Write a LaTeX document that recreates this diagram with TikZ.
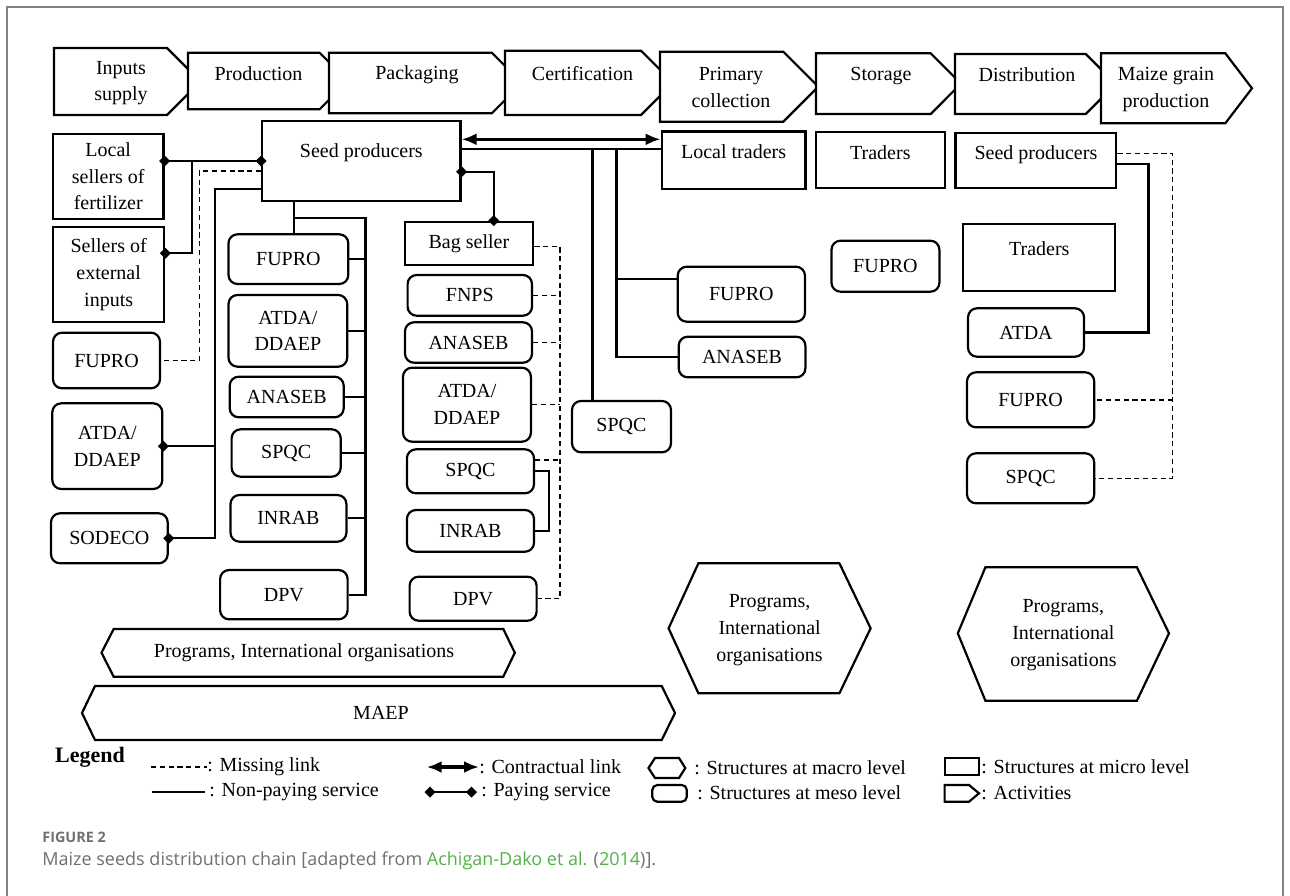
\documentclass[tikz,border=0pt]{standalone}
\usepackage{fontspec}
\setmainfont{Liberation Serif}
\newfontfamily\capfont{Open Sans}
\usetikzlibrary{arrows.meta,calc}

\definecolor{capgray}{RGB}{112,112,112}
\definecolor{citegreen}{RGB}{84,178,72}
\definecolor{framegray}{RGB}{130,130,130}

\begin{document}
\begin{tikzpicture}[x=0.5pt, y=-0.5pt, font=\fontsize{10}{13.3}\selectfont]
\tikzstyle{micro} = [rectangle, draw, line width=1.1pt, fill=white, inner sep=0pt, align=center]
\tikzstyle{meso} = [micro, rounded corners=4.5pt]
\tikzstyle{act} = [draw, line width=1.1pt, fill=white]
\tikzstyle{macro} = [draw, line width=1.1pt, fill=white]
\tikzstyle{txt} = [align=center, inner sep=0pt]
\tikzstyle{toptxt} = [anchor=north, inner sep=0pt]
\tikzstyle{line} = [draw, line width=1.1pt]
\tikzstyle{missing} = [draw, line width=0.7pt, dash pattern=on 2.6pt off 1.8pt]
\tikzstyle{pay} = [{Diamond[length=5.5pt,width=5.5pt]}-{Diamond[length=5.5pt,width=5.5pt]}, shorten <=-2.75pt, shorten >=-2.75pt]
\tikzstyle{payend} = [-{Diamond[length=5.5pt,width=5.5pt]}, shorten >=-2.75pt]
\tikzstyle{contract} = [{Latex[length=7.5pt,width=6pt]}-{Latex[length=7.5pt,width=6pt]}, line width=1.6pt]
\tikzstyle{legtext} = [anchor=west, inner sep=0pt]

\useasboundingbox[fill=white] (0,0) rectangle (1290,895);
\draw[framegray, line width=0.8pt] (7,905) -- (7,7) -- (1283,7) -- (1283,905);

% activities
\draw[act] (54,48) -- (167,48) -- (200.5,81.5) -- (167,115) -- (54,115) -- cycle;
\node[txt] (inputs) at (121,83) {Inputs\\supply};
\draw[act] (188,52.7) -- (319.6,52.7) -- (347.9,81) -- (319.6,109.3) -- (188,109.3) -- cycle;
\node[txt] (production) at (258.5,73.5) {Production};
\draw[act] (329,52.7) -- (491.8,52.7) -- (522.1,83) -- (491.8,113.3) -- (329,113.3) -- cycle;
\node[txt] (packaging) at (417,74.5) {Packaging};
\draw[act] (505,50.7) -- (641,50.7) -- (673.2,82.85) -- (641,115) -- (505,115) -- cycle;
\node[txt] (certif) at (582.5,73.5) {Certification};
\draw[act] (660,51.7) -- (783.3,51.7) -- (818.3,86.7) -- (783.3,121.7) -- (660,121.7) -- cycle;
\node[txt] (primary) at (731,87.5) {Primary\\collection};
\draw[act] (816,53.3) -- (930.7,53.3) -- (961,83.65) -- (930.7,114) -- (816,114) -- cycle;
\node[txt] (storage) at (881,76) {Storage};
\draw[act] (955,54) -- (1085.7,54) -- (1115.7,84) -- (1085.7,114) -- (955,114) -- cycle;
\node[txt] (distrib) at (1027,75) {Distribution};
\draw[act] (1101,53.3) -- (1225.3,53.3) -- (1252,88.3) -- (1225.3,123.3) -- (1101,123.3) -- cycle;
\node[txt] (maize) at (1166,89.5) {Maize grain\\production};

% micro level structures
\node[micro, minimum width=55.25pt, minimum height=42.5pt] (locfert) at (108.25,176.5) {Local\\sellers of\\fertilizer};
\node[micro, minimum width=55.65pt, minimum height=47.2pt] (extin) at (108.65,274.5) {Sellers of\\external\\inputs};
\node[micro, minimum width=99.15pt, minimum height=40pt, label={[toptxt, yshift=-12pt]north:Seed producers}] (seedprod) at (361.35,160.7) {};
\node[micro, minimum width=64.3pt, minimum height=21.65pt] (bagseller) at (468.9,243.35) {Bag seller};
\node[micro, minimum width=71.9pt, minimum height=28.75pt, label={[toptxt, yshift=-6.75pt]north:Local traders}] (loctraders) at (733.6,160.25) {};
\node[micro, minimum width=64.45pt, minimum height=27.7pt, label={[toptxt, yshift=-7pt]north:Traders}] (traders1) at (880.35,160) {};
\node[micro, minimum width=80.4pt, minimum height=27.5pt, label={[toptxt, yshift=-6.8pt]north:Seed producers}] (seedprodR) at (1035.9,160.2) {};
\node[micro, minimum width=76pt, minimum height=33.2pt, label={[toptxt, yshift=-8.85pt]north:Traders}] (traders2) at (1039.3,257.5) {};

% meso level structures
\node[meso, minimum width=53.5pt, minimum height=27.8pt] (fupro1) at (106.5,360.5) {FUPRO};
\node[meso, minimum width=55pt, minimum height=42.85pt] (atda1) at (107.3,446.15) {ATDA/\\DDAEP};
\node[meso, minimum width=58.35pt, minimum height=25pt] (sodeco) at (109.35,538.3) {SODECO};
\node[meso, minimum width=59.9pt, minimum height=24.85pt] (fupro2) at (288.4,259.15) {FUPRO};
\node[meso, minimum width=59.35pt, minimum height=35.85pt] (atda2) at (287.85,330.85) {ATDA/\\DDAEP};
\node[meso, minimum width=57pt, minimum height=20.3pt] (anaseb2) at (286.7,397) {ANASEB};
\node[meso, minimum width=54.55pt, minimum height=23.7pt] (spqc2) at (286.15,453) {SPQC};
\node[meso, minimum width=57.95pt, minimum height=23.35pt] (inrab2) at (288.45,518.35) {INRAB};
\node[meso, minimum width=63.75pt, minimum height=24.65pt] (dpv2) at (283.85,594.65) {DPV};
\node[meso, minimum width=62.2pt, minimum height=20.35pt] (fnps3) at (469.8,295.35) {FNPS};
\node[meso, minimum width=63.5pt, minimum height=20.2pt] (anaseb3) at (468.5,342.5) {ANASEB};
\node[meso, minimum width=63.95pt, minimum height=37pt] (atda3) at (466.95,404.7) {ATDA/\\DDAEP};
\node[meso, minimum width=63.55pt, minimum height=22pt] (spqc3) at (470.45,471.3) {SPQC};
\node[meso, minimum width=63.55pt, minimum height=20.85pt] (inrab3) at (470.45,530.85) {INRAB};
\node[meso, minimum width=63.5pt, minimum height=22pt] (dpv3) at (473.1,598.7) {DPV};
\node[meso, minimum width=49.5pt, minimum height=25.65pt] (spqc4) at (621.5,426.65) {SPQC};
\node[meso, minimum width=63.65pt, minimum height=27.5pt] (fupro4) at (741.35,294.2) {FUPRO};
\node[meso, minimum width=63.35pt, minimum height=20.3pt] (anaseb4) at (742.05,357) {ANASEB};
\node[meso, minimum width=53.95pt, minimum height=25.5pt] (fupro5) at (885.45,266.2) {FUPRO};
\node[meso, minimum width=58pt, minimum height=24.2pt] (atda6) at (1026,332.5) {ATDA};
\node[meso, minimum width=63.6pt, minimum height=27.5pt] (fupro6) at (1030.6,399.8) {FUPRO};
\node[meso, minimum width=63.6pt, minimum height=25pt] (spqc6) at (1030.6,478.3) {SPQC};

% macro level structures
\draw[macro] (101.5,652.7) -- (113.7,629) -- (503.3,629) -- (514.8,652.7) -- (503.3,676.7) -- (113.7,676.7) -- cycle;
\node[txt] (progs1) at (304,653) {Programs, International organisations};
\draw[macro] (82,713) -- (95,686) -- (661.7,686) -- (675,713) -- (661.7,740) -- (95,740) -- cycle;
\node[txt] (maep) at (381,713) {MAEP};
\draw[macro] (668.6,628.3) -- (698.4,563.3) -- (839.4,563.3) -- (870.6,628.3) -- (839.4,693.3) -- (698.4,693.3) -- cycle;
\node[txt] (progs2) at (769.6,630) {Programs,\\International\\organisations};
\draw[macro] (957.8,633.3) -- (985.4,567.3) -- (1136.9,567.3) -- (1169,633.3) -- (1136.9,700.7) -- (985.4,700.7) -- cycle;
\node[txt] (progs3) at (1063.4,635) {Programs,\\International\\organisations};

% links on the left
\coordinate (j1) at (191.7,161);
\coordinate (j2) at (191.7,253.3);
\path[line, pay] (locfert.east |- j1) -- (seedprod.west |- j1);
\path[line, payend] (j1) -- (j2) -- (extin.east |- j2);
\coordinate (d1) at (199.3,171);
\path[missing] (seedprod.west |- d1) -- (d1) |- (fupro1.east);
\coordinate (s1) at (215,189.3);
\path[line, payend] (seedprod.west |- s1) -- (s1) |- (sodeco.east);
\path[line, payend] (s1 |- atda1.east) -- (atda1.east);

% bus under the seed producers
\coordinate (b0) at (294,217.7);
\coordinate (b1) at (365.5,217.7);
\path[line] (seedprod.south -| b0) -- (fupro2.north -| b0);
\path[line] (b0) -- (b1) |- (dpv2.east);
\foreach \n in {fupro2,atda2,anaseb2,spqc2,inrab2}
  \path[line] (\n.east) -- (\n.east -| b1);

% bag seller column
\coordinate (p1) at (493.7,171.7);
\path[line, pay] (seedprod.east |- p1) -- (p1) -- (p1 |- bagseller.north);
\coordinate (m1) at (560,246.7);
\path[missing] (bagseller.east |- m1) -- (m1) |- (dpv3.east);
\foreach \n in {fnps3,anaseb3,atda3}
  \path[missing] (\n.east) -- (\n.east -| m1);
\path[missing] (spqc3.east |- 0,460) -- (m1 |- 0,460);
\coordinate (k1) at (549.2,500);
\path[line] (spqc3.east) -| (k1) |- (inrab3.east);

% seed producers to local traders
\path[line, contract] (seedprod.east |- 0,139.3) -- (loctraders.west |- 0,139.3);
\coordinate (v1) at (592.5,149.3);
\coordinate (v2) at (616.5,149.3);
\path[line] (seedprod.east |- v1) -- (loctraders.west |- v1);
\path[line] (v1) -- (v1 |- spqc4.north);
\path[line] (v2) |- (anaseb4.west);
\path[line] (v2 |- 0,279.3) -- (fupro4.west |- 0,279.3);

% distribution column
\coordinate (r1) at (1172.7,153.3);
\path[missing] (seedprodR.east |- r1) -- (r1) |- (spqc6.east);
\path[missing] (r1 |- fupro6.east) -- (fupro6.east);
\coordinate (r2) at (1148.5,164);
\path[line] (seedprodR.east |- r2) -- (r2) |- (atda6.east);

% legend
\node[font=\bfseries\fontsize{11}{13}\selectfont, inner sep=0pt] (legend) at (90,757) {Legend};
\node[legtext] (keymiss) at (207,767) {: Missing link};
\path[missing] (151,767) -- (keymiss.west);
\node[legtext] (keynon) at (209,792) {: Non-paying service};
\path[line, shorten >=2pt] (151.7,792) -- (keynon.west);
\node[legtext] (keycon) at (479,767) {: Contractual link};
\path[line, contract] (426.7,767) -- (keycon.west);
\node[legtext] (keypay) at (481,792) {: Paying service};
\path[line, pay, shorten >=2pt] (430,792) -- (keypay.west);
\draw[macro] (648.5,768) -- (655,758) -- (679,758) -- (685.3,768) -- (679,778) -- (655,778) -- cycle;
\node[legtext] (keymacro) at (694,768) {: Structures at macro level};
\node[meso, minimum width=17.25pt, minimum height=8.35pt, rounded corners=2.5pt] (keymeso) at (669.55,793.35) {};
\node[legtext] (keymesot) at (697,793) {: Structures at meso level};
\node[micro, minimum width=17.2pt, minimum height=8.5pt] (keymicro) at (961.8,766.5) {};
\node[legtext] (keymicrot) at (981,767) {: Structures at micro level};
\draw[act] (944.6,785) -- (969,785) -- (979,793.3) -- (969,801.7) -- (944.6,801.7) -- cycle;
\node[legtext] (keyact) at (981,793) {: Activities};

% caption
\node[anchor=west, inner sep=0pt, font=\capfont\bfseries\fontsize{7.2}{9}\selectfont, text=capgray] (fignum) at (42,837) {FIGURE 2};
\node[anchor=west, inner sep=0pt, font=\capfont\fontsize{9}{11}\selectfont, text=capgray] (caption) at (42,861) {Maize seeds distribution chain [adapted from \textcolor{citegreen}{Achigan-Dako et al.} (\textcolor{citegreen}{2014})].};
\end{tikzpicture}
\end{document}
